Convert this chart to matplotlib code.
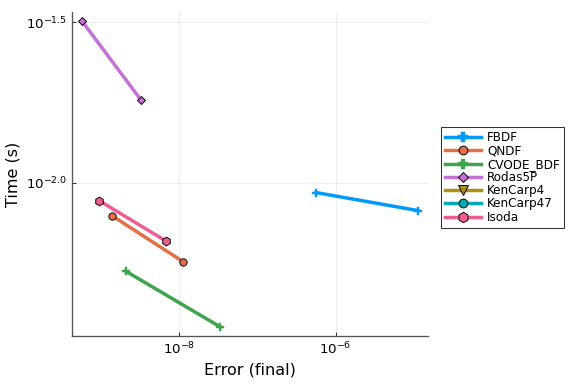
import numpy as np
import matplotlib
matplotlib.use("Agg")
import matplotlib.pyplot as plt
from matplotlib.ticker import FixedLocator, NullLocator

# log10 of error and time
solvers = ["FBDF", "QNDF", "CVODE_BDF", "Rodas5P", "KenCarp4", "KenCarp47", "Isoda"]
log_err = {
    "FBDF": [-6.25, -4.95],
    "QNDF": [-8.85, -7.95],
    "CVODE_BDF": [-8.68, -7.47],
    "Rodas5P": [-9.24, -8.49],
    "KenCarp4": [],
    "KenCarp47": [],
    "Isoda": [-9.02, -8.16],
}
log_time = {
    "FBDF": [-2.030, -2.086],
    "QNDF": [-2.103, -2.245],
    "CVODE_BDF": [-2.275, -2.449],
    "Rodas5P": [-1.495, -1.740],
    "KenCarp4": [],
    "KenCarp47": [],
    "Isoda": [-2.055, -2.182],
}

colors = ["#009AFA", "#E36F47", "#3EA44E", "#C371D2", "#AC8E18", "#00AAAE", "#ED5E93"]
markers = ["P", "o", "P", "D", "v", "o", "h"]
msizes = [6, 5.5, 6, 4.5, 6.5, 5.5, 6.5]

fig = plt.figure(figsize=(6, 4), dpi=96)
ax = fig.add_axes([0.125, 0.125, 0.618, 0.844])

for name, c, m, ms in zip(solvers, colors, markers, msizes):
    x = 10.0 ** np.array(log_err[name], dtype=float)
    y = 10.0 ** np.array(log_time[name], dtype=float)
    mec = c if m == "P" else "black"
    ax.plot(x, y, color=c, lw=2.6, marker=m, markersize=ms,
            markeredgecolor=mec, markeredgewidth=0.7 if m != "P" else 0.3,
            label=name)

ax.set_xscale("log")
ax.set_yscale("log")
ax.set_xlim(10 ** -9.366, 10 ** -4.82)
ax.set_ylim(10 ** -2.477, 10 ** -1.467)

ax.xaxis.set_major_locator(FixedLocator([1e-8, 1e-6]))
ax.set_xticklabels([r"$10^{-8}$", r"$10^{-6}$"])
ax.yaxis.set_major_locator(FixedLocator([10 ** -2.0, 10 ** -1.5]))
ax.set_yticklabels([r"$10^{-2.0}$", r"$10^{-1.5}$"])
ax.xaxis.set_minor_locator(NullLocator())
ax.yaxis.set_minor_locator(NullLocator())

ax.tick_params(direction="in", length=3, width=0.8, labelsize=10, color="#333333")
ax.grid(True, color="black", alpha=0.1, lw=0.5)
for s in ["top", "right"]:
    ax.spines[s].set_visible(False)
for s in ["left", "bottom"]:
    ax.spines[s].set_color("#555555")
    ax.spines[s].set_linewidth(1.0)

ax.set_xlabel("Error (final)", fontsize=12)
ax.set_ylabel("Time (s)", fontsize=12)

leg = ax.legend(loc="center left", bbox_to_anchor=(1.02, 0.489), fontsize=9,
                frameon=True, fancybox=False, edgecolor="black",
                handlelength=3.0, borderpad=0.35, labelspacing=0.02,
                handletextpad=0.5, markerscale=1.2)
leg.get_frame().set_linewidth(0.8)

fig.savefig("out.png", dpi=96)
